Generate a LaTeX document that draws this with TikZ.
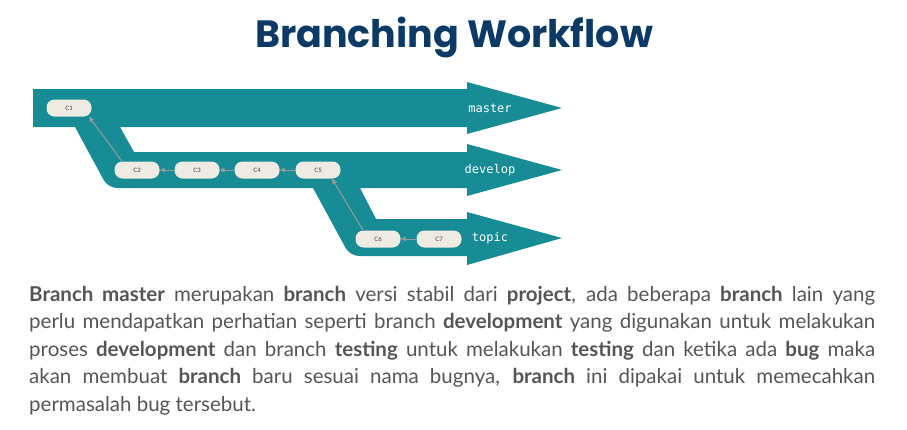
\documentclass[tikz,border=0pt]{standalone}
\usepackage{fontspec}
\setmainfont{Lato}
\newfontfamily\titlefont{Poppins}
\newfontfamily\labelfont{DejaVu Sans Mono}
\usetikzlibrary{arrows.meta}
\definecolor{bandteal}{HTML}{188C95}
\definecolor{commitfill}{HTML}{EEEBE3}
\definecolor{titleblue}{HTML}{0C3A66}
\definecolor{bodygrey}{HTML}{555555}
\definecolor{parentgrey}{HTML}{9A9A9A}
\tikzset{
  commit/.style={fill=commitfill, rounded corners=8pt, minimum width=45pt,
    minimum height=17pt, inner sep=0pt, text=black!75,
    font=\fontsize{6}{6}\selectfont},
  parent/.style={draw=parentgrey, line width=1pt, -{Triangle[length=5pt,width=4.5pt]}},
  branchlabel/.style={text=white, font=\labelfont\fontsize{12}{12}\selectfont}
}
\begin{document}
\begin{tikzpicture}[x=1pt, y=-1pt]
  \useasboundingbox (0,0) rectangle (907,429);
  \node[anchor=base, text=titleblue, font=\titlefont\bfseries\fontsize{38}{38}\selectfont]
    (title) at (454,47) {Branching Workflow};
  % the three branch bands
  \fill[bandteal] (33,89) -- (467,89) -- (467,82) -- (562,108) -- (467,134)
    -- (467,127) -- (120,127) -- (134,152) -- (467,152) -- (467,144)
    -- (562,170) -- (467,196) -- (467,188) -- (360,188) -- (376,219)
    -- (467,219) -- (467,212) -- (562,238) -- (467,265) -- (467,256)
    [rounded corners=9pt] -- (350,256) [sharp corners] -- (313,188)
    [rounded corners=9pt] -- (108,188) [sharp corners] -- (75,127)
    -- (33,127) -- cycle;
  \node[branchlabel] (master) at (490,108) {master};
  \node[branchlabel] (develop) at (490,170) {develop};
  \node[branchlabel] (topic) at (490,238) {topic};
  % commits
  \foreach \n/\x/\y in {1/69/108, 2/137/170, 3/197/170, 4/257/170,
                        5/318/170, 6/378/239, 7/439/239}
    \node[commit] (c\n) at (\x,\y) {C\n};
  \draw[parent] ([xshift=-15pt]c2.north) -- ([xshift=20pt]c1.south);
  \draw[parent] (c3) -- (c2);
  \draw[parent] (c4) -- (c3);
  \draw[parent] (c5) -- (c4);
  \draw[parent] ([xshift=-15pt]c6.north) -- ([xshift=14pt]c5.south);
  \draw[parent] (c7) -- (c6);
  % description
  \node[anchor=base west, text width=846pt, align=justify, inner sep=0pt,
    text=bodygrey, font=\fontsize{20.5}{27.5}\selectfont] (desc) at (29,301)
    {\hyphenpenalty=10000 \textbf{Branch master} merupakan \textbf{branch} versi stabil dari \textbf{project}, ada beberapa \textbf{branch} lain yang\linebreak
     perlu mendapatkan perhatian seperti branch \textbf{development} yang digunakan untuk melakukan\linebreak
     proses \textbf{development} dan branch \textbf{testing} untuk melakukan \textbf{testing} dan ketika ada \textbf{bug} maka\linebreak
     akan membuat \textbf{branch} baru sesuai nama bugnya, \textbf{branch} ini dipakai untuk memecahkan\linebreak
     permasalah bug tersebut.};
\end{tikzpicture}
\end{document}
